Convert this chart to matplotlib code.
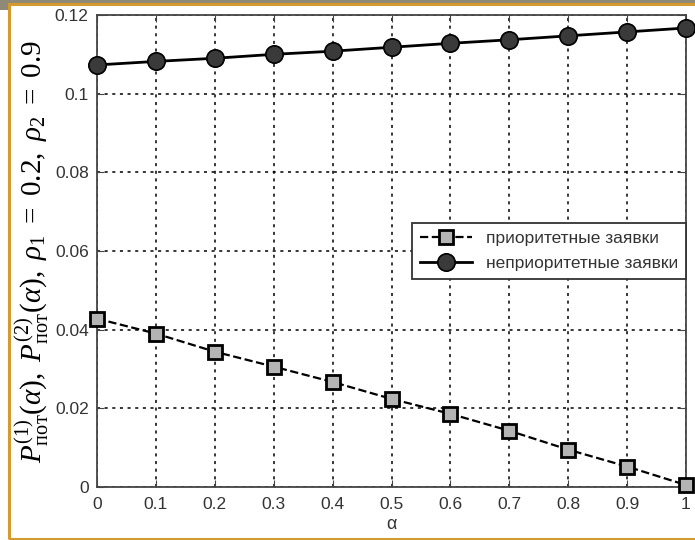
import numpy as np
import matplotlib
matplotlib.use('Agg')
import matplotlib.pyplot as plt
from matplotlib.patches import Rectangle

# данные
alpha = [0, 0.1, 0.2, 0.3, 0.4, 0.5, 0.6, 0.7, 0.8, 0.9, 1.0]
p_prior = [0.0428, 0.0390, 0.0344, 0.0306, 0.0267, 0.0224, 0.0186, 0.0143, 0.0095, 0.0052, 0.0005]
p_nonprior = [0.1073, 0.1082, 0.1090, 0.1100, 0.1108, 0.1118, 0.1128, 0.1137, 0.1147, 0.1157, 0.1167]
label_prior = 'приоритетные заявки'
label_nonprior = 'неприоритетные заявки'
x_ticks = [0, 0.1, 0.2, 0.3, 0.4, 0.5, 0.6, 0.7, 0.8, 0.9, 1]
y_ticks = [0, 0.02, 0.04, 0.06, 0.08, 0.1, 0.12]

plt.rcParams['font.family'] = ['Liberation Sans', 'DejaVu Sans']
plt.rcParams['mathtext.fontset'] = 'custom'
plt.rcParams['mathtext.rm'] = 'Liberation Serif'
plt.rcParams['mathtext.it'] = 'Liberation Serif:italic'
plt.rcParams['mathtext.bf'] = 'Liberation Serif:bold'

fig = plt.figure(figsize=(6.95, 5.4), dpi=100)
ax = fig.add_axes([97 / 695, 1 - 487 / 540, 589 / 695, 472 / 540])

ax.plot(alpha, p_prior, '--', color='black', lw=1.6, marker='s', markersize=10,
        markerfacecolor='#b4b4b4', markeredgecolor='black', markeredgewidth=2,
        label=label_prior, clip_on=False, zorder=5)
ax.plot(alpha, p_nonprior, '-', color='black', lw=2, marker='o', markersize=12.5,
        markerfacecolor='#3a3a3a', markeredgecolor='black', markeredgewidth=1.2,
        label=label_nonprior, clip_on=False, zorder=5)

ax.set_xlim(0, 1)
ax.set_ylim(0, 0.12)
ax.set_xticks(x_ticks)
ax.set_xticklabels(['0', '0.1', '0.2', '0.3', '0.4', '0.5', '0.6', '0.7', '0.8', '0.9', '1'])
ax.set_yticks(y_ticks)
ax.set_yticklabels(['0', '0.02', '0.04', '0.06', '0.08', '0.1', '0.12'])
ax.tick_params(direction='in', length=5, color='#444444', labelcolor='#333333',
               labelsize=12.5, top=True, right=True)
ax.tick_params(axis='x', pad=7)
ax.tick_params(axis='y', pad=6)
for sp in ax.spines.values():
    sp.set_color('#444444')
    sp.set_linewidth(1.3)
ax.grid(True, linestyle=(0, (2, 3)), color='black', linewidth=1.1)

ax.set_xlabel('α', fontsize=13, color='#333333', labelpad=3)
ax.set_ylabel(r'$P_{\mathrm{пот}}^{(1)}(\alpha),\ P_{\mathrm{пот}}^{(2)}(\alpha),\ \rho_1\ =\ 0.2,\ \rho_2\ =\ 0.9$',
              fontsize=21, labelpad=3)

leg = ax.legend(loc='upper right', bbox_to_anchor=(1.0, 0.559), fontsize=12.5,
                frameon=True, fancybox=False, edgecolor='#333333', framealpha=1,
                handlelength=3, borderpad=0.45, labelspacing=0.55, borderaxespad=0)
leg.get_frame().set_linewidth(1.3)
for t in leg.get_texts():
    t.set_color('#333333')

# рамка вокруг картинки
fig.patches.append(Rectangle((0, 1 - 3 / 540), 1, 3 / 540, transform=fig.transFigure,
                             facecolor='#8f8a78', edgecolor='none'))
fig.patches.append(Rectangle((0, 1 - 10 / 540), 8 / 695, 10 / 540, transform=fig.transFigure,
                             facecolor='#8f8a78', edgecolor='none'))
fig.patches.append(Rectangle((8.5 / 695, 1.5 / 540), 2, 534.5 / 540, transform=fig.transFigure,
                             fill=False, edgecolor='#d59a2e', linewidth=2.2))

fig.savefig('out.png', dpi=100)
